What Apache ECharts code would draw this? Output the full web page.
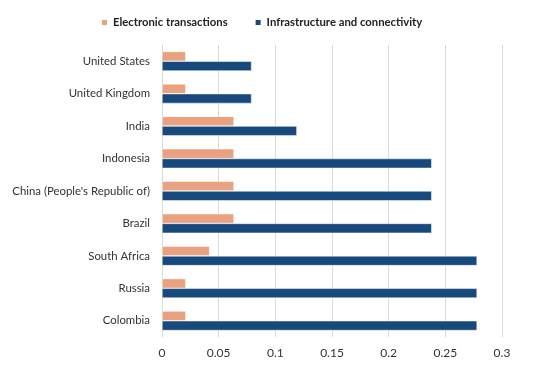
<!DOCTYPE html>
<html><head><meta charset="utf-8">
<script src="https://cdn.jsdelivr.net/npm/echarts@6/dist/echarts.min.js"></script>
<style>html,body{margin:0;padding:0;background:#fff}#c{width:554px;height:369px}</style>
</head><body><div id="c"></div>
<script>
const categories = ["United States","United Kingdom","India","Indonesia","China (People's Republic of)","Brazil","South Africa","Russia","Colombia"];
const electronic = [0.021,0.021,0.0635,0.0635,0.0635,0.0635,0.042,0.021,0.021];
const infrastructure = [0.079,0.079,0.119,0.238,0.238,0.238,0.278,0.278,0.278];
const xTicks = [0,0.05,0.1,0.15,0.2,0.25,0.3];
const seriesNames = ["Electronic transactions","Infrastructure and connectivity"];

const chart = echarts.init(document.getElementById('c'));
const font = 'Lato, "Open Sans", sans-serif';
chart.setOption({
  animation:false,
  textStyle:{fontFamily:font},
  legend:{
    top:12, left:95, itemWidth:7, itemHeight:7, itemGap:26,
    icon:'rect',
    textStyle:{fontSize:11.3, fontWeight:'bold', color:'#222', fontFamily:font},
    data:seriesNames
  },
  grid:{left:162, right:52, top:45, bottom:32, containLabel:false},
  xAxis:{
    type:'value', min:0, max:0.3, interval:0.05,
    axisLabel:{color:'#333', fontSize:12, margin:10, formatter:v=>{const i=xTicks.findIndex(t=>Math.abs(t-v)<1e-9);return i>=0?String(xTicks[i]):'';}},
    splitLine:{show:true, lineStyle:{color:'#d9d9d9', width:1}},
    axisLine:{show:false}, axisTick:{show:false}
  },
  yAxis:{
    type:'category', data:categories, inverse:true,
    axisLabel:{color:'#333', fontSize:11.4, margin:12},
    axisLine:{show:true, lineStyle:{color:'#d9d9d9'}},
    axisTick:{show:false}
  },
  series:[
    {name:seriesNames[0], type:'bar', data:electronic, barGap:'0%', barCategoryGap:'40%',
     itemStyle:{color:'#E9A27F', borderColor:'#fff', borderWidth:0.5}},
    {name:seriesNames[1], type:'bar', data:infrastructure, barGap:'0%', barCategoryGap:'40%',
     itemStyle:{color:'#17497D', borderColor:'#fff', borderWidth:0.5}}
  ]
});
</script></body></html>
